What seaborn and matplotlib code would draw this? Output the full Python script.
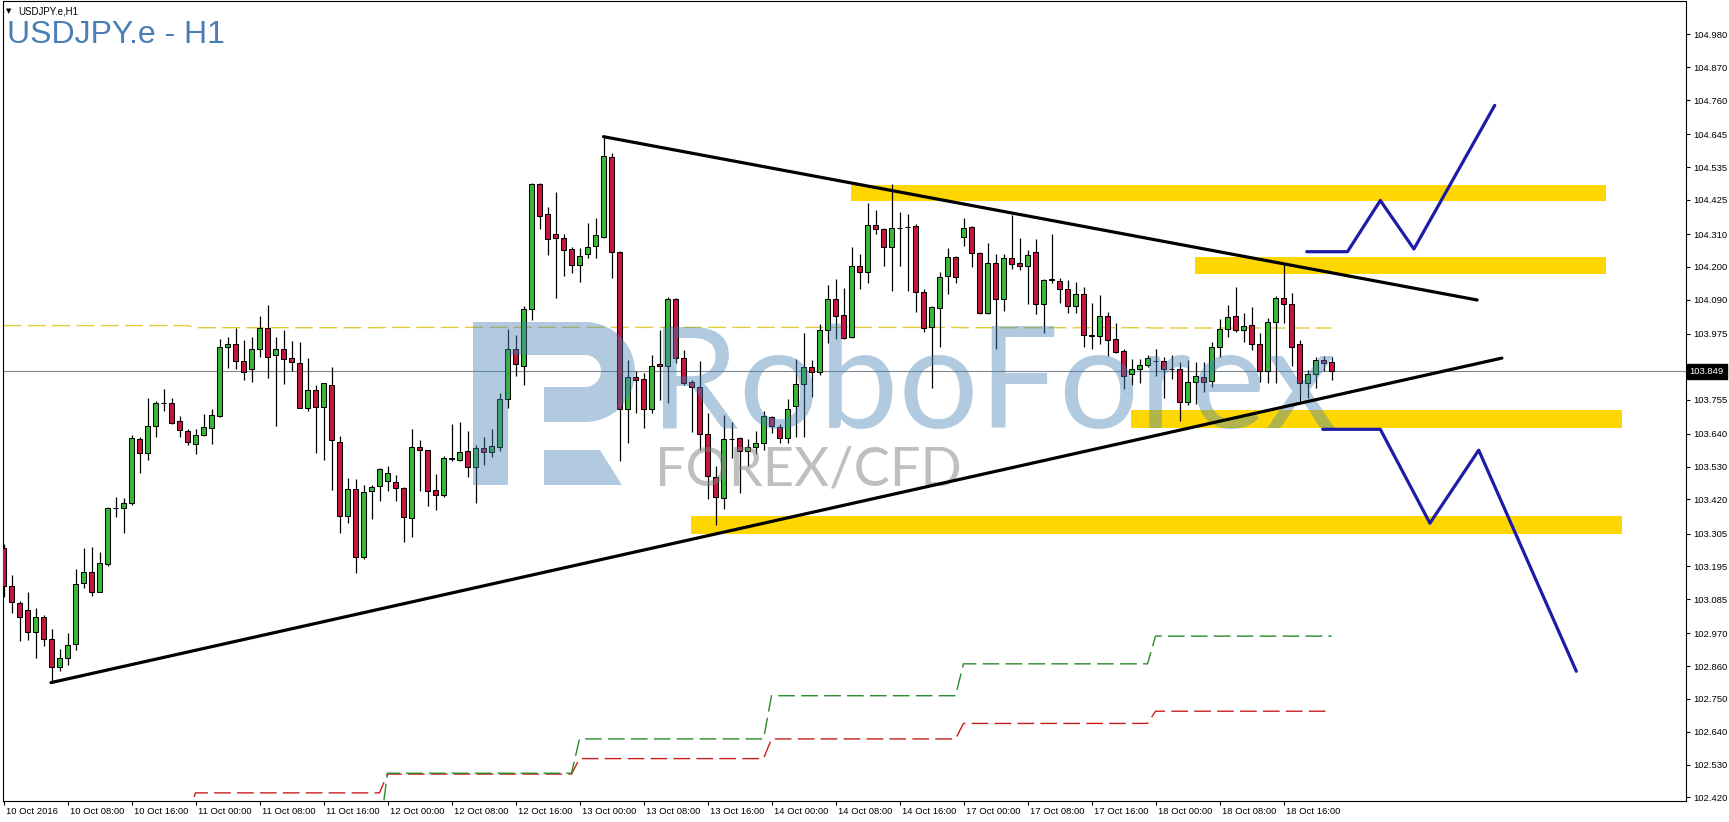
import numpy as np
import pandas as pd
import matplotlib
matplotlib.use("Agg")
import matplotlib.pyplot as plt
import matplotlib.patches as mpatches
import matplotlib.transforms as mtrans
import seaborn as sns

# ---------------- data (USDJPY.e H1, bar 0 = 10 Oct 2016 00:00) ----------------
opens = [103.256, 103.129, 103.071, 103.048, 102.974, 103.024, 102.950, 102.859, 102.886, 102.933,
         103.138, 103.177, 103.110, 103.203, 103.390, 103.392, 103.407, 103.621, 103.574, 103.666,
         103.743, 103.742, 103.682, 103.648, 103.605, 103.635, 103.658, 103.701, 103.930, 103.940,
         103.883, 103.858, 103.926, 103.994, 103.903, 103.923, 103.893, 103.876, 103.725, 103.787,
         103.729, 103.803, 103.614, 103.365, 103.454, 103.225, 103.448, 103.465, 103.481, 103.479,
         103.457, 103.356, 103.595, 103.584, 103.451, 103.433, 103.556, 103.552, 103.582, 103.527,
         103.591, 103.578, 103.595, 103.756, 103.923, 103.869, 104.058, 104.478, 104.376, 104.309,
         104.296, 104.259, 104.205, 104.242, 104.269, 104.301, 104.568, 104.249, 103.722, 103.829,
         103.823, 103.722, 103.873, 103.866, 104.092, 103.893, 103.815, 103.796, 103.638, 103.496,
         103.423, 103.621, 103.625, 103.583, 103.597, 103.608, 103.695, 103.664, 103.625, 103.733,
         103.806, 103.863, 103.846, 103.988, 104.091, 104.039, 103.966, 104.203, 104.184, 104.340,
         104.328, 104.266, 104.330, 104.334, 104.336, 104.117, 103.999, 104.063, 104.169, 104.232,
         104.299, 104.335, 104.246, 104.044, 104.212, 104.091, 104.229, 104.212, 104.203, 104.249,
         104.074, 104.157, 104.154, 104.125, 104.069, 104.108, 103.969, 103.969, 104.035, 103.957,
         103.918, 103.839, 103.856, 103.871, 103.884, 103.884, 103.856, 103.856, 103.748, 103.813,
         103.832, 103.818, 103.932, 103.990, 104.035, 103.988, 104.005, 103.940, 103.852, 104.014,
         104.095, 104.074, 103.940, 103.809, 103.839, 103.888, 103.880]
highs = [103.270, 103.166, 103.079, 103.109, 103.055, 103.032, 102.984, 102.918, 102.970, 103.185,
         103.258, 103.260, 103.242, 103.395, 103.427, 103.424, 103.636, 103.630, 103.761, 103.750,
         103.790, 103.761, 103.700, 103.657, 103.655, 103.705, 103.723, 103.957, 103.964, 103.994,
         103.955, 103.964, 104.036, 104.072, 103.964, 103.988, 103.951, 103.947, 103.893, 103.803,
         103.812, 103.863, 103.633, 103.491, 103.487, 103.468, 103.468, 103.524, 103.532, 103.502,
         103.460, 103.655, 103.619, 103.587, 103.505, 103.566, 103.673, 103.678, 103.649, 103.602,
         103.630, 103.655, 103.776, 103.991, 103.972, 104.069, 104.482, 104.482, 104.400, 104.452,
         104.309, 104.268, 104.264, 104.346, 104.363, 104.637, 104.581, 104.252, 103.888, 103.852,
         103.843, 103.904, 103.988, 104.098, 104.095, 103.921, 103.820, 103.884, 103.711, 103.532,
         103.703, 103.678, 103.628, 103.621, 103.650, 103.716, 103.701, 103.672, 103.756, 103.890,
         103.977, 103.888, 104.007, 104.139, 104.158, 104.130, 104.268, 104.242, 104.416, 104.391,
         104.331, 104.478, 104.385, 104.376, 104.344, 104.126, 104.068, 104.182, 104.262, 104.237,
         104.363, 104.338, 104.249, 104.279, 104.243, 104.243, 104.374, 104.296, 104.257, 104.292,
         104.160, 104.311, 104.164, 104.156, 104.150, 104.134, 104.078, 104.106, 104.050, 104.011,
         103.923, 103.890, 103.890, 103.904, 103.925, 103.899, 103.904, 103.882, 103.888, 103.880,
         103.880, 103.949, 104.025, 104.072, 104.134, 104.044, 104.067, 103.977, 104.027, 104.102,
         104.209, 104.111, 103.955, 103.854, 103.897, 103.901, 103.897]
lows = [103.091, 103.037, 102.946, 102.948, 102.886, 102.928, 102.805, 102.845, 102.864, 102.914,
        103.121, 103.097, 103.108, 103.196, 103.362, 103.306, 103.401, 103.510, 103.552, 103.630,
        103.717, 103.672, 103.630, 103.601, 103.571, 103.634, 103.607, 103.697, 103.862, 103.858,
        103.820, 103.815, 103.899, 103.828, 103.667, 103.807, 103.852, 103.725, 103.718, 103.577,
        103.552, 103.451, 103.306, 103.340, 103.172, 103.219, 103.353, 103.416, 103.449, 103.416,
        103.278, 103.295, 103.449, 103.399, 103.384, 103.429, 103.547, 103.550, 103.496, 103.407,
        103.535, 103.561, 103.583, 103.725, 103.834, 103.804, 104.022, 104.327, 104.241, 104.095,
        104.171, 104.181, 104.148, 104.231, 104.231, 104.298, 104.162, 103.550, 103.608, 103.711,
        103.658, 103.711, 103.753, 103.742, 103.876, 103.804, 103.647, 103.586, 103.420, 103.334,
        103.387, 103.558, 103.440, 103.532, 103.571, 103.586, 103.641, 103.608, 103.608, 103.630,
        103.630, 103.765, 103.837, 103.944, 103.957, 103.958, 103.960, 104.125, 104.145, 104.309,
        104.204, 104.120, 104.204, 104.120, 104.050, 103.981, 103.792, 103.932, 104.108, 104.147,
        104.271, 104.201, 104.041, 104.042, 103.924, 104.053, 104.192, 104.190, 104.076, 104.041,
        103.979, 104.145, 104.078, 104.046, 104.046, 103.932, 103.923, 103.941, 103.902, 103.910,
        103.789, 103.804, 103.809, 103.865, 103.835, 103.759, 103.823, 103.684, 103.737, 103.740,
        103.781, 103.796, 103.897, 103.966, 103.983, 103.949, 103.921, 103.815, 103.809, 103.809,
        104.013, 103.867, 103.748, 103.759, 103.795, 103.849, 103.820]
closes = [103.129, 103.074, 103.026, 102.974, 103.024, 102.950, 102.856, 102.886, 102.930, 103.135,
          103.177, 103.110, 103.205, 103.390, 103.392, 103.407, 103.625, 103.574, 103.666, 103.742,
          103.744, 103.677, 103.653, 103.611, 103.635, 103.662, 103.702, 103.930, 103.940, 103.883,
          103.846, 103.926, 103.994, 103.899, 103.923, 103.892, 103.880, 103.726, 103.787, 103.731,
          103.809, 103.618, 103.365, 103.454, 103.225, 103.444, 103.462, 103.521, 103.507, 103.457,
          103.360, 103.595, 103.584, 103.449, 103.433, 103.558, 103.558, 103.578, 103.527, 103.591,
          103.580, 103.600, 103.756, 103.923, 103.873, 104.058, 104.478, 104.372, 104.293, 104.296,
          104.256, 104.205, 104.237, 104.267, 104.306, 104.572, 104.249, 103.722, 103.829, 103.820,
          103.722, 103.869, 103.866, 104.092, 103.893, 103.812, 103.796, 103.638, 103.499, 103.427,
          103.621, 103.622, 103.583, 103.597, 103.610, 103.701, 103.666, 103.625, 103.723, 103.806,
          103.863, 103.846, 103.988, 104.091, 104.036, 103.962, 104.203, 104.184, 104.340, 104.328,
          104.266, 104.329, 104.332, 104.334, 104.117, 103.996, 104.065, 104.167, 104.232, 104.167,
          104.329, 104.246, 104.044, 104.212, 104.091, 104.229, 104.209, 104.204, 104.240, 104.074,
          104.156, 104.159, 104.125, 104.069, 104.108, 103.971, 103.970, 104.035, 103.955, 103.916,
          103.835, 103.856, 103.871, 103.893, 103.884, 103.856, 103.856, 103.746, 103.813, 103.834,
          103.815, 103.932, 103.990, 104.033, 103.988, 104.003, 103.940, 103.852, 104.014, 104.095,
          104.074, 103.932, 103.809, 103.839, 103.888, 103.876, 103.849]

x_tick_bars = [0, 8, 16, 24, 32, 40, 48, 56, 64, 72, 80, 88, 96, 104, 112, 120, 128, 136, 144, 152, 160]
x_tick_labels = ["10 Oct 2016", "10 Oct 08:00", "10 Oct 16:00", "11 Oct 00:00", "11 Oct 08:00",
                 "11 Oct 16:00", "12 Oct 00:00", "12 Oct 08:00", "12 Oct 16:00", "13 Oct 00:00",
                 "13 Oct 08:00", "13 Oct 16:00", "14 Oct 00:00", "14 Oct 08:00", "14 Oct 16:00",
                 "17 Oct 00:00", "17 Oct 08:00", "17 Oct 16:00", "18 Oct 00:00", "18 Oct 08:00",
                 "18 Oct 16:00"]
y_tick_values = [104.980, 104.870, 104.760, 104.645, 104.535, 104.425, 104.310, 104.200, 104.090,
                 103.975, 103.865, 103.755, 103.640, 103.530, 103.420, 103.305, 103.195, 103.085,
                 102.970, 102.860, 102.750, 102.640, 102.530, 102.420]
current_price = 103.849

# daily indicator levels (one value per trading day)
day_bars = [24, 24, 24, 24, 24, 24, 23]
pivot_daily = [104.003, 103.996, 103.997, 103.997, 103.997, 103.996, 103.995]
green_daily = [102.300, 102.300, 102.501, 102.616, 102.761, 102.868, 102.961]
red_daily = [102.350, 102.435, 102.498, 102.550, 102.616, 102.668, 102.709]

# hand-drawn analysis objects (bar index, price)
upper_trend_x = [75.0, 184.2]
upper_trend_y = [104.637, 104.089]
lower_trend_x = [5.94, 187.3]
lower_trend_y = [102.805, 103.894]
blue_up_x = [162.9, 168.0, 172.1, 176.3, 186.4]
blue_up_y = [104.251, 104.251, 104.423, 104.260, 104.742]
blue_dn_x = [164.9, 172.1, 178.3, 184.4, 196.6]
blue_dn_y = [103.655, 103.655, 103.340, 103.585, 102.843]
zone_left = [105.9, 148.9, 140.9, 85.9]
zone_right = [200.3, 200.3, 202.3, 202.3]
zone_low = [104.422, 104.175, 103.658, 103.305]
zone_high = [104.475, 104.232, 103.720, 103.365]

# ---------------- style ----------------
sns.set_theme(style="white")
plt.rcParams["font.family"] = ["Liberation Sans", "DejaVu Sans"]
plt.rcParams["lines.scale_dashes"] = False

W, H = 1729, 822
fig = plt.figure(figsize=(W / 100, H / 100), dpi=100)
fig.patch.set_facecolor("white")
ax = fig.add_axes([2.5 / W, (H - 801) / H, (1686 - 2.5) / W, (801 - 1.5) / H])
ax.set_facecolor("white")
# transform for decorations given in image pixels (origin top-left)
pix = mtrans.Affine2D().scale(1 / W, -1 / H).translate(0, 1) + fig.transFigure

df = pd.DataFrame({"open": opens, "high": highs, "low": lows, "close": closes})
df["bar"] = np.arange(len(df))
bullish = df["close"] >= df["open"]
body_bottom = np.minimum(df["open"], df["close"])
body_height = np.maximum((df["close"] - df["open"]).abs(), 0.0006)
body_colors = np.where(bullish, "#38b838", "#c8143f")

# zones
for l, r, lo, hi in zip(zone_left, zone_right, zone_low, zone_high):
    ax.add_patch(mpatches.Rectangle((l, lo), r - l, hi - lo, facecolor="#ffd700",
                                    edgecolor="none", zorder=1))

# daily indicator lines
bars = df["bar"].to_numpy()
pivot_line = np.repeat(pivot_daily, day_bars)
green_line = np.repeat(green_daily, day_bars)
red_line = np.repeat(red_daily, day_bars)
sns.lineplot(x=bars, y=pivot_line, ax=ax, color="#e3cd3a", linewidth=1.0,
             linestyle=(0, (13, 4.5)), estimator=None, sort=False, zorder=1.6)
sns.lineplot(x=bars, y=red_line, ax=ax, color="#c81e1e", linewidth=1.0,
             linestyle=(0, (12, 4.5)), estimator=None, sort=False, zorder=1.6)
sns.lineplot(x=bars, y=green_line, ax=ax, color="#2a8a2a", linewidth=1.0,
             linestyle=(0, (12, 4.5)), estimator=None, sort=False, zorder=1.7)

ax.axhline(current_price, color="#7d8893", linewidth=0.8, zorder=1.5)

# candles
ax.vlines(df["bar"], df["low"], df["high"], color="black", linewidth=0.9, zorder=2)
ax.bar(df["bar"], body_height, bottom=body_bottom, width=0.62, color=body_colors,
       edgecolor="black", linewidth=0.75, zorder=3)

# watermark (semi-transparent, over candles)
wm_blue = "#4682b4"
wm_alpha = 0.42
ax.add_patch(mpatches.Rectangle((473, 322), 35, 163, transform=pix, facecolor=wm_blue,
                                alpha=wm_alpha, edgecolor="none", zorder=3.5))
t_out = np.linspace(np.pi / 2, -np.pi / 2, 40)
t_in = np.linspace(-np.pi / 2, np.pi / 2, 40)
bowl = [(508, 322), (585, 322)]
bowl += [(585 + 50 * np.cos(t), 372 - 50 * np.sin(t)) for t in t_out]
bowl += [(544, 422), (544, 387), (585, 387)]
bowl += [(585 + 16 * np.cos(t), 371 - 16 * np.sin(t)) for t in t_in]
bowl += [(508, 355)]
ax.add_patch(mpatches.Polygon(bowl, closed=True, transform=pix, facecolor=wm_blue,
                              alpha=wm_alpha, edgecolor="none", zorder=3.5))
ax.add_patch(mpatches.Polygon([(544, 450), (600, 450), (622, 485), (544, 485)], closed=True,
                              transform=pix, facecolor=wm_blue, alpha=wm_alpha,
                              edgecolor="none", zorder=3.5))
ax.text(650, 428, "RoboForex", transform=pix, fontsize=102, family=["Lato", "DejaVu Sans"],
        fontweight="normal", color=wm_blue, alpha=wm_alpha, ha="left", va="baseline",
        zorder=3.5)
ax.text(655, 485, "FOREX/CFD", transform=pix, fontsize=39, family=["Lato", "DejaVu Sans"],
        color="#808080", alpha=0.5, ha="left", va="baseline", zorder=3.5)

# trend lines and projections
sns.lineplot(x=upper_trend_x, y=upper_trend_y, ax=ax, color="black", linewidth=2.3,
             estimator=None, sort=False, zorder=4)
sns.lineplot(x=lower_trend_x, y=lower_trend_y, ax=ax, color="black", linewidth=2.3,
             estimator=None, sort=False, zorder=4)
sns.lineplot(x=blue_up_x, y=blue_up_y, ax=ax, color="#1c1ca8", linewidth=2.3,
             estimator=None, sort=False, zorder=4)
sns.lineplot(x=blue_dn_x, y=blue_dn_y, ax=ax, color="#1c1ca8", linewidth=2.3,
             estimator=None, sort=False, zorder=4)

# axes
ax.set_xlim(-0.125, 210.31)
ax.set_ylim(102.4077, 105.0906)
ax.set_xlabel("")
ax.set_ylabel("")
ax.grid(False)
for s in ax.spines.values():
    s.set_visible(True)
    s.set_color("black")
    s.set_linewidth(0.8)

ax.set_xticks(x_tick_bars)
ax.set_xticklabels(x_tick_labels)
ax.yaxis.tick_right()
ax.set_yticks(y_tick_values)
ax.set_yticklabels([f"{v:.3f}" for v in y_tick_values])
ax.tick_params(axis="x", bottom=True, top=False, direction="out", length=3, width=0.8,
               pad=1.5, labelsize=6.8, colors="black")
ax.tick_params(axis="y", left=False, right=True, labelleft=False, labelright=True,
               direction="out", length=3, width=0.8, pad=2, labelsize=6.8, colors="black")
offset = mtrans.ScaledTranslation(2 / 100, 0, fig.dpi_scale_trans)
for lab in ax.get_xticklabels():
    lab.set_horizontalalignment("left")
    lab.set_transform(lab.get_transform() + offset)

# current price box
blend = mtrans.blended_transform_factory(ax.transAxes, ax.transData)
ax.text(1.0 + 3.5 / 1683.5, current_price, f"{current_price:.3f}", transform=blend,
        fontsize=6.8, color="white", ha="left", va="center", clip_on=False, zorder=10,
        bbox=dict(boxstyle="square,pad=0.3", facecolor="black", edgecolor="black"))

# titles
ax.text(9, 11, "\u25BC", transform=pix, fontsize=5, family=["DejaVu Sans"], color="black",
        ha="center", va="center", clip_on=False, zorder=10)
ax.text(18, 11, "USDJPY.e,H1", transform=pix, fontsize=7, color="black", ha="left",
        va="center", clip_on=False, zorder=10)
ax.text(7, 43, "USDJPY.e - H1", transform=pix, fontsize=23, color="#4a7eb4", ha="left",
        va="baseline", clip_on=False, zorder=10)

fig.savefig("out.png", dpi=100, facecolor="white")
